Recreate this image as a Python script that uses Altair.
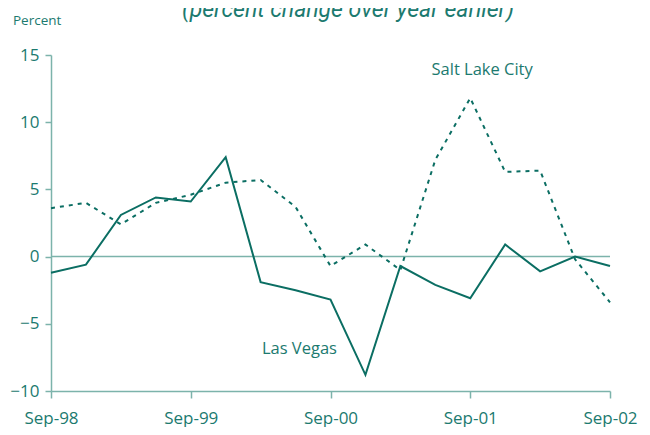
import altair as alt
import pandas as pd

quarters = list(range(17))
tick_labels = ["Sep-98", "Sep-99", "Sep-00", "Sep-01", "Sep-02"]
las_vegas = [-1.2, -0.6, 3.1, 4.4, 4.1, 7.4, -1.9, -2.5, -3.2, -8.8,
             -0.7, -2.1, -3.1, 0.9, -1.1, 0.0, -0.7]
salt_lake = [3.6, 4.0, 2.4, 4.0, 4.6, 5.5, 5.7, 3.7, -0.7, 0.9,
             -1.0, 7.2, 11.8, 6.3, 6.4, -0.2, -3.4]

LINE = "#0b6e63"
AXIS = "#7cb3ab"
TEXT = "#1c7a6f"
FONT = "Open Sans"

df = pd.DataFrame({
    "q": quarters * 2,
    "value": las_vegas + salt_lake,
    "city": ["Las Vegas"] * 17 + ["Salt Lake City"] * 17,
})

label_expr = "{0:'Sep-98',4:'Sep-99',8:'Sep-00',12:'Sep-01',16:'Sep-02'}[datum.value]"

x = alt.X("q:Q", scale=alt.Scale(domain=[0, 16], nice=False, zero=False),
          axis=alt.Axis(values=[0, 4, 8, 12, 16], labelExpr=label_expr, title=None,
                        grid=False, domainColor=AXIS, domainWidth=1.5, tickColor=AXIS,
                        tickWidth=1.5, tickSize=7, labelColor=TEXT, labelFont=FONT,
                        labelFontSize=17, labelPadding=12, labelFlush=False))
y = alt.Y("value:Q", scale=alt.Scale(domain=[-10, 15], nice=False),
          axis=alt.Axis(values=[-10, -5, 0, 5, 10, 15], title=None, grid=False,
                        domainColor=AXIS, domainWidth=1.5, tickColor=AXIS, tickWidth=1.5,
                        tickSize=6, labelColor=TEXT, labelFont=FONT, labelFontSize=17,
                        labelPadding=6))

base = alt.Chart(df)

zero = alt.Chart(pd.DataFrame({"y": [0]})).mark_rule(color=AXIS, strokeWidth=1.5).encode(
    y=alt.Y("y:Q", scale=alt.Scale(domain=[-10, 15], nice=False)),
    x=alt.value(0), x2=alt.value(559))

lv = base.transform_filter(alt.datum.city == "Las Vegas").mark_line(
    color=LINE, strokeWidth=2).encode(x=x, y=y)
slc = base.transform_filter(alt.datum.city == "Salt Lake City").mark_line(
    color=LINE, strokeWidth=2, strokeDash=[4, 5]).encode(x=x, y=y)

labels_df = pd.DataFrame({
    "q": [12.34, 7.11],
    "value": [13.9, -6.9],
    "text": ["Salt Lake City", "Las Vegas"],
})
city_labels = alt.Chart(labels_df).mark_text(
    font=FONT, fontSize=16.5, color=TEXT, align="center", baseline="middle").encode(
    x=alt.X("q:Q", scale=alt.Scale(domain=[0, 16], nice=False, zero=False)),
    y=alt.Y("value:Q", scale=alt.Scale(domain=[-10, 15], nice=False)),
    text="text:N")

title = alt.Chart(pd.DataFrame({"t": ["(percent change over year earlier)"]})).mark_text(
    font="Roboto", fontStyle="italic", fontSize=23, color=TEXT,
    align="center", baseline="alphabetic").encode(
    x=alt.value(297), y=alt.value(-38), text="t:N")

percent = alt.Chart(pd.DataFrame({"t": ["Percent"]})).mark_text(
    font=FONT, fontSize=13.5, color=TEXT, align="left", baseline="alphabetic").encode(
    x=alt.value(-38), y=alt.value(-30), text="t:N")

chart = alt.layer(zero, slc, lv, city_labels, title, percent).properties(
    width=559, height=336,
    autosize=alt.AutoSizeParams(type="none"),
    padding={"left": 43, "top": 47, "right": 30, "bottom": 36},
).configure_view(stroke=None)

chart.save("out.html", embed_options={"renderer": "svg", "actions": False})
